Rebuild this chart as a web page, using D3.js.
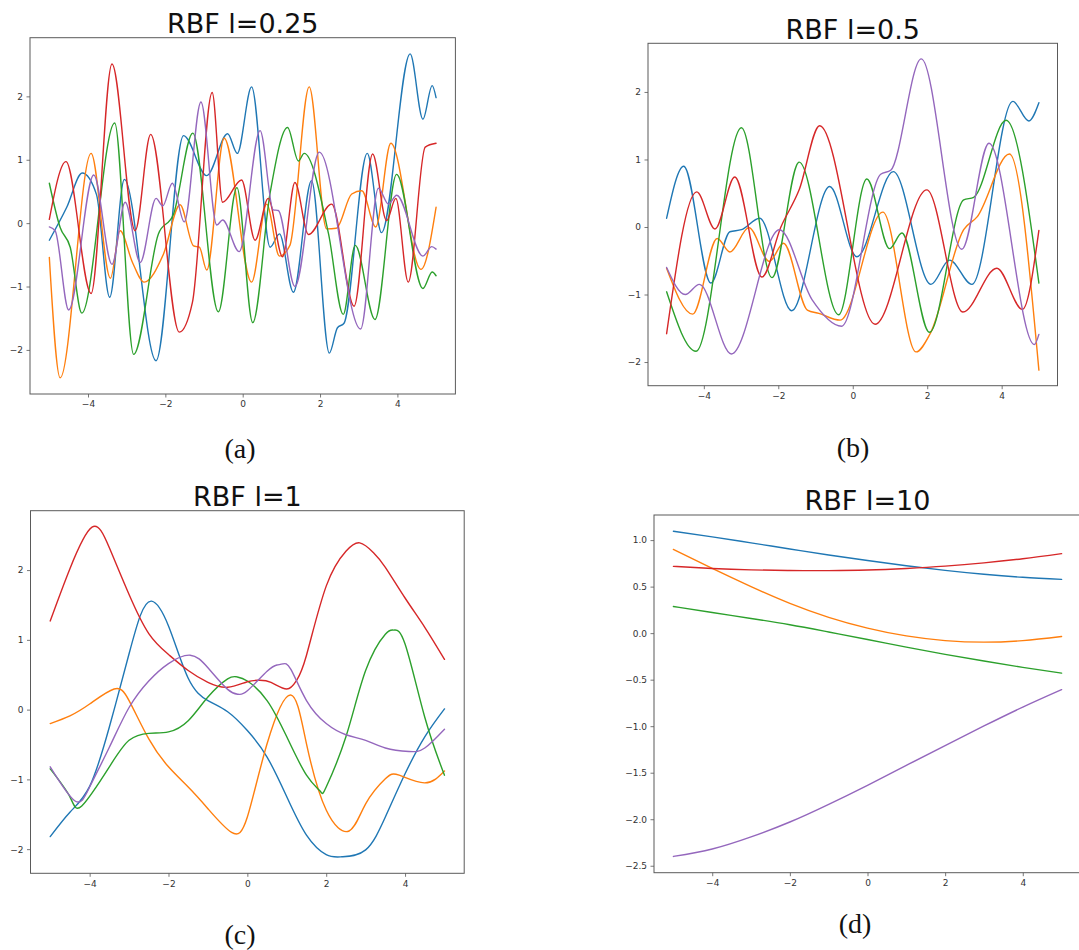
<!DOCTYPE html>
<html>
<head>
<meta charset="utf-8">
<script src="https://cdn.jsdelivr.net/npm/d3@7"></script>
<style>
  body { margin: 0; background: #fff; }
  svg { display: block; }
</style>
</head>
<body>
<svg id="chart" width="1079" height="950"></svg>
<script>
// Titles, captions and tick values
const titles = ["RBF l=0.25", "RBF l=0.5", "RBF l=1", "RBF l=10"];
const captions = ["(a)", "(b)", "(c)", "(d)"];
const xTicks = [-4, -2, 0, 2, 4];
const yTicksInt = [-2, -1, 0, 1, 2];
const yTicksD = [-2.5, -2.0, -1.5, -1.0, -0.5, 0.0, 0.5, 1.0];
const seriesColors = ["#1f77b4", "#ff7f0e", "#2ca02c", "#d62728", "#9467bd"];

// GP prior samples, length-scale 0.25 — [x, f(x)]
const a_blue = [[-5,-0.27],[-4.55,0.25],[-4.15,0.79],[-3.78,0.45],[-3.44,-1.17],[-3.06,0.69],[-2.24,-2.17],[-1.53,1.38],[-0.93,0.75],[-0.39,1.41],[-0.14,1.10],[0.23,2.15],[0.71,-0.38],[0.95,-0.17],[1.31,-1.09],[1.78,0.67],[2.24,-2.05],[2.45,-1.65],[2.62,-1.58],[3.22,1.10],[3.59,-0.15],[4.33,2.67],[4.66,1.64],[4.9,2.17],[5,1.98]];
const a_orange = [[-5,-0.54],[-4.72,-2.44],[-3.92,1.10],[-3.42,-0.87],[-3.17,-0.12],[-2.85,-0.62],[-2.55,-0.93],[-2.05,-0.49],[-1.62,0.29],[-1.27,-0.36],[-1.12,-0.38],[-0.93,-0.74],[-0.48,1.34],[0.23,-0.93],[0.62,0.30],[0.95,-0.52],[1.22,-0.35],[1.72,2.15],[2.17,-0.09],[2.42,-0.08],[2.82,0.46],[3.08,0.51],[3.44,-0.06],[3.83,1.26],[4.61,-0.73],[5,0.25]];
const a_green = [[-5,0.63],[-4.72,-0.07],[-4.46,-0.38],[-4.16,-1.42],[-3.31,1.58],[-2.82,-2.07],[-2.18,-0.17],[-1.79,0.14],[-1.29,1.42],[-0.63,-1.40],[-0.15,0.56],[0.26,-1.57],[0.71,0.48],[1.16,1.51],[1.44,0.98],[1.59,1.10],[2.22,-0.17],[2.60,-1.44],[2.91,-0.35],[3.42,-1.52],[3.98,0.77],[4.66,-1.03],[4.9,-0.77],[5,-0.83]];
const a_red = [[-5,0.06],[-4.57,0.97],[-3.92,-1.11],[-3.38,2.51],[-2.78,-0.12],[-2.38,1.40],[-1.64,-1.72],[-1.3,-1.25],[-0.79,2.06],[-0.52,0.33],[-0.03,0.68],[0.32,-0.27],[0.66,0.39],[1.03,-0.53],[1.35,0.64],[1.70,-0.18],[2.30,0.30],[2.88,-1.31],[3.36,1.09],[3.72,0.04],[3.96,0.39],[4.28,-0.93],[4.72,1.20],[5,1.26]];
const a_purple = [[-5,-0.06],[-4.85,-0.12],[-4.5,-1.37],[-3.85,0.76],[-3.38,-0.65],[-3.04,0.33],[-2.65,-0.62],[-2.24,0.39],[-2.07,0.27],[-1.82,0.63],[-1.51,0.02],[-1.08,1.91],[-0.67,-0.03],[-0.52,0.05],[-0.09,-0.45],[0.45,1.46],[0.79,0.21],[0.92,0.20],[1.35,-1.0],[1.98,1.12],[3.05,-1.67],[3.51,0.55],[3.77,0.30],[3.98,0.44],[4.66,-0.52],[4.89,-0.37],[5,-0.41]];

// length-scale 0.5
const b_blue = [[-5,0.13],[-4.54,0.90],[-3.81,-0.83],[-3.30,-0.07],[-2.99,-0.04],[-2.50,0.13],[-1.64,-1.24],[-0.62,0.60],[0.11,-0.44],[1.09,0.82],[2.10,-0.85],[2.60,-0.49],[3.20,-0.85],[4.30,1.86],[4.73,1.57],[5,1.84]];
const b_orange = [[-5,-0.61],[-4.30,-1.29],[-3.64,-0.17],[-3.30,-0.37],[-2.79,-0.01],[-2.24,-0.51],[-1.86,-0.24],[-1.22,-1.23],[-0.91,-1.28],[-0.34,-1.38],[0.81,0.22],[1.70,-1.85],[2.08,-1.58],[2.98,-0.04],[3.34,0.15],[4.21,1.08],[5,-2.12]];
const b_green = [[-5,-0.96],[-4.21,-1.84],[-2.99,1.47],[-2.17,-0.75],[-1.44,0.96],[-0.38,-1.30],[0.38,0.71],[0.99,-0.32],[1.32,-0.09],[2.06,-1.56],[2.98,0.40],[3.25,0.44],[4.12,1.58],[5,-0.83]];
const b_red = [[-5,-1.58],[-4.19,0.52],[-3.70,-0.03],[-3.17,0.74],[-2.44,-0.74],[-1.93,0.0],[-1.44,0.55],[-0.89,1.50],[0.60,-1.44],[1.99,0.55],[2.96,-1.26],[3.87,-0.61],[4.56,-1.22],[5,-0.05]];
const b_purple = [[-5,-0.60],[-4.50,-1.0],[-4.12,-0.85],[-3.26,-1.88],[-1.97,-0.04],[-1.09,-1.08],[-0.30,-1.47],[0.75,0.78],[1.02,0.84],[1.84,2.49],[2.93,-0.33],[3.66,1.24],[4.88,-1.74],[5,-1.59]];

// length-scale 1
const c_blue = [[-5,-1.82],[-4.5,-1.47],[-4,-1.10],[-3.5,-0.25],[-3,0.80],[-2.72,1.34],[-2.43,1.555],[-2,1.20],[-1.5,0.45],[-1,0.13],[-0.5,-0.03],[0,-0.30],[0.5,-0.68],[1,-1.25],[1.5,-1.80],[2,-2.08],[2.4,-2.11],[3,-2.01],[3.5,-1.54],[4,-0.92],[4.5,-0.39],[5,0.01]];
const c_orange = [[-5,-0.20],[-4.5,-0.09],[-4,0.08],[-3.38,0.295],[-3,0.13],[-2.5,-0.42],[-2,-0.82],[-1.5,-1.11],[-1,-1.42],[-0.4,-1.76],[0,-1.54],[0.5,-0.49],[1.1,0.21],[1.5,-0.49],[2,-1.44],[2.58,-1.74],[3,-1.35],[3.5,-0.99],[3.85,-0.94],[4.5,-1.05],[5,-0.88]];
const c_green = [[-5,-0.85],[-4.5,-1.25],[-4.2,-1.38],[-3.5,-0.82],[-3,-0.44],[-2.5,-0.34],[-2,-0.32],[-1.5,-0.16],[-1,0.18],[-0.5,0.44],[-0.27,0.47],[0,0.41],[0.5,0.13],[1,-0.39],[1.5,-0.94],[1.85,-1.17],[2,-1.11],[2.5,-0.39],[3,0.56],[3.5,1.08],[3.72,1.14],[4,0.94],[4.5,-0.11],[5,-0.94]];
const c_red = [[-5,1.27],[-4.5,2.02],[-3.94,2.615],[-3.5,2.32],[-3,1.65],[-2.5,1.09],[-2,0.79],[-1.5,0.56],[-1,0.39],[-0.5,0.32],[0,0.40],[0.3,0.42],[0.6,0.39],[1.0,0.295],[1.25,0.42],[1.5,0.78],[2,1.77],[2.5,2.27],[2.85,2.39],[3.2,2.25],[3.5,2.04],[4,1.60],[4.5,1.18],[5,0.72]];
const c_purple = [[-5,-0.82],[-4.37,-1.31],[-4,-1.11],[-3.5,-0.54],[-3,0.03],[-2.5,0.41],[-2,0.66],[-1.45,0.78],[-1,0.60],[-0.5,0.29],[-0.23,0.22],[0,0.27],[0.5,0.55],[0.75,0.64],[0.9,0.655],[1.1,0.58],[1.5,0.13],[2,-0.20],[2.5,-0.36],[3,-0.44],[3.5,-0.55],[4.1,-0.60],[4.5,-0.55],[5,-0.28]];

// length-scale 10
const d_blue = [[-5,1.095],[-4,1.035],[-3,0.97],[-2,0.905],[-1,0.84],[0,0.78],[1,0.725],[2,0.675],[3,0.633],[4,0.60],[5,0.578]];
const d_orange = [[-5,0.90],[-4,0.695],[-3,0.50],[-2,0.32],[-1,0.17],[0,0.054],[1,-0.03],[2,-0.08],[3,-0.097],[4,-0.08],[5,-0.036]];
const d_green = [[-5,0.287],[-4,0.222],[-3,0.158],[-2,0.090],[-1,0.012],[0,-0.068],[1,-0.150],[2,-0.228],[3,-0.300],[4,-0.368],[5,-0.430]];
const d_red = [[-5,0.718],[-4,0.695],[-3,0.680],[-2,0.673],[-1,0.672],[0,0.678],[1,0.695],[2,0.720],[3,0.755],[4,0.800],[5,0.855]];
const d_purple = [[-5,-2.40],[-4,-2.32],[-3,-2.19],[-2,-2.03],[-1,-1.84],[0,-1.635],[1,-1.422],[2,-1.208],[3,-0.998],[4,-0.795],[5,-0.607]];

const panelSeries = [
  [a_blue, a_orange, a_green, a_red, a_purple],
  [b_blue, b_orange, b_green, b_red, b_purple],
  [c_blue, c_orange, c_green, c_red, c_purple],
  [d_blue, d_orange, d_green, d_red, d_purple]
];
const panelYTicks = [yTicksInt, yTicksInt, yTicksInt, yTicksD];
const panelYFormat = [d3.format("d"), d3.format("d"), d3.format("d"), d3.format(".1f")];
// wiggly samples keep their extrema with a monotone spline; smoother ones use natural splines
const panelCurve = [d3.curveMonotoneX, d3.curveMonotoneX, d3.curveNatural, d3.curveNatural];

// Axes boxes and text placement for the 2x2 grid
const layout = [
  { left: 30,  top: 37.7,  right: 455.4,  bottom: 394,   titleY: 33,  capX: 240, capY: 458 },
  { left: 648, top: 43.3,  right: 1057.5, bottom: 385.7, titleY: 39,  capX: 853, capY: 457 },
  { left: 30.5, top: 510.7, right: 464.2, bottom: 873.3, titleY: 506, capX: 240, capY: 944 },
  { left: 654, top: 515,   right: 1081,   bottom: 872.7, titleY: 510, capX: 855, capY: 933 }
];

const svg = d3.select("#chart");

// matplotlib-style autoscale: data extent plus 5% margin on each side
function padded(ext) {
  const m = (ext[1] - ext[0]) * 0.05;
  return [ext[0] - m, ext[1] + m];
}

panelSeries.forEach((series, i) => {
  const L = layout[i];
  const all = series.flat();
  const x = d3.scaleLinear().domain(padded(d3.extent(all, d => d[0]))).range([L.left, L.right]);
  const y = d3.scaleLinear().domain(padded(d3.extent(all, d => d[1]))).range([L.bottom, L.top]);

  const g = svg.append("g");

  const line = d3.line()
    .x(d => x(d[0]))
    .y(d => y(d[1]))
    .curve(panelCurve[i]);

  g.selectAll("path.sample")
    .data(series)
    .join("path")
    .attr("class", "sample")
    .attr("d", line)
    .attr("fill", "none")
    .attr("stroke", (d, k) => seriesColors[k])
    .attr("stroke-width", 1.4)
    .attr("stroke-linejoin", "round")
    .attr("stroke-linecap", "round");

  // axes
  const xAxis = g.append("g")
    .attr("transform", `translate(0,${L.bottom})`)
    .call(d3.axisBottom(x).tickValues(xTicks).tickSize(3.5).tickPadding(3.5).tickFormat(d3.format("d")));
  const yAxis = g.append("g")
    .attr("transform", `translate(${L.left},0)`)
    .call(d3.axisLeft(y).tickValues(panelYTicks[i]).tickSize(3.5).tickPadding(3.5).tickFormat(panelYFormat[i]));

  [xAxis, yAxis].forEach(ax => {
    ax.select(".domain").remove();
    ax.attr("font-family", "'DejaVu Sans', sans-serif").attr("font-size", 9);
    ax.selectAll(".tick line").attr("stroke", "#555").attr("stroke-width", 0.8);
    ax.selectAll(".tick text").attr("fill", "#333");
  });

  // frame
  g.append("rect")
    .attr("x", L.left).attr("y", L.top)
    .attr("width", L.right - L.left).attr("height", L.bottom - L.top)
    .attr("fill", "none")
    .attr("stroke", "#5a5a5a")
    .attr("stroke-width", 1);

  // title
  g.append("text")
    .attr("x", (L.left + L.right) / 2)
    .attr("y", L.titleY)
    .attr("text-anchor", "middle")
    .attr("font-family", "'DejaVu Sans', sans-serif")
    .attr("font-size", 27)
    .attr("fill", "#111")
    .text(titles[i]);

  // caption
  svg.append("text")
    .attr("x", L.capX)
    .attr("y", L.capY)
    .attr("text-anchor", "middle")
    .attr("font-family", "'Liberation Serif', 'Times New Roman', serif")
    .attr("font-size", 28)
    .attr("fill", "#111")
    .text(captions[i]);
});
</script>
</body>
</html>
